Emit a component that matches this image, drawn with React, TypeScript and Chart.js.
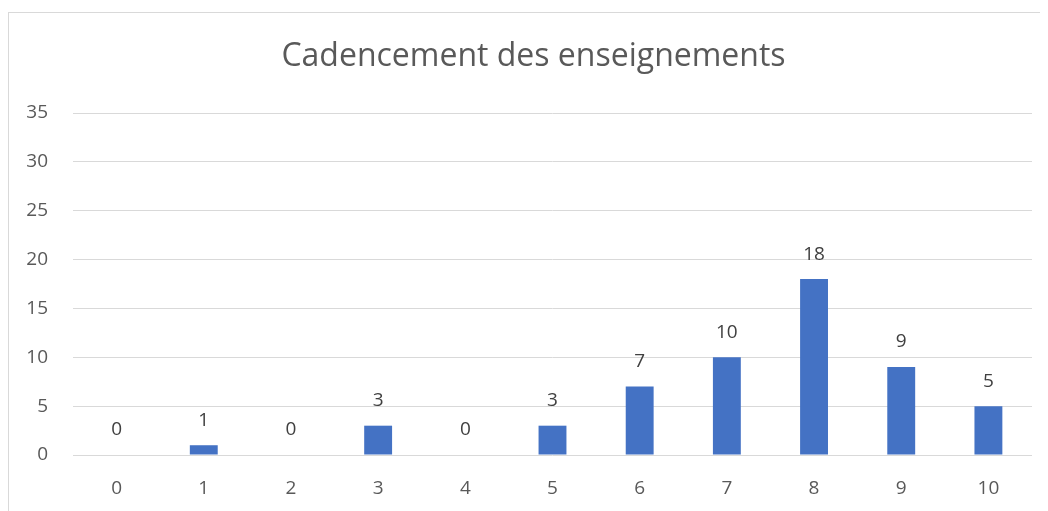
import React, { useEffect, useRef } from "react";
import { Chart, registerables } from "chart.js";

Chart.register(...registerables);

const categories = ["0", "1", "2", "3", "4", "5", "6", "7", "8", "9", "10"];
const values = [0, 1, 0, 3, 0, 3, 7, 10, 18, 9, 5];
const titleText = "Cadencement des enseignements";

const FONT = "'Open Sans', 'Noto Sans', sans-serif";

const valueLabels = {
  id: "valueLabels",
  afterDatasetsDraw(chart: any) {
    const ctx = chart.ctx;
    const meta = chart.getDatasetMeta(0);
    ctx.save();
    ctx.font = `19px ${FONT}`;
    ctx.fillStyle = "#404040";
    ctx.textAlign = "center";
    ctx.textBaseline = "middle";
    meta.data.forEach((bar: any, i: number) => {
      ctx.fillText(String(values[i]), bar.x, bar.y - 25);
    });
    ctx.restore();
  },
};

const titleDraw = {
  id: "titleDraw",
  afterDraw(chart: any) {
    const ctx = chart.ctx;
    ctx.save();
    ctx.font = `32px ${FONT}`;
    ctx.fillStyle = "#595959";
    ctx.textAlign = "center";
    ctx.textBaseline = "middle";
    ctx.fillText(titleText, (chart.width - 16 + 26) / 2, 44);
    ctx.restore();
  },
};

export default function App() {
  const ref = useRef<HTMLCanvasElement>(null);
  useEffect(() => {
    if (!ref.current) return;
    const chart = new Chart(ref.current, {
      type: "bar",
      data: {
        labels: categories,
        datasets: [
          {
            data: values,
            backgroundColor: "#4472C4",
            borderWidth: 0,
            categoryPercentage: 1,
            barPercentage: 0.32,
          },
        ],
      },
      options: {
        animation: false,
        responsive: false,
        maintainAspectRatio: false,
        layout: { padding: { top: 100, left: 0, right: 16, bottom: 0 } },
        plugins: {
          legend: { display: false },
          tooltip: { enabled: false },
          title: { display: false },
        },
        scales: {
          x: {
            grid: { display: false },
            border: { display: false },
            ticks: {
              color: "#595959",
              font: { family: FONT, size: 19 },
              padding: 14,
            },
            afterFit: (scale: any) => {
              scale.height = 56;
            },
          },
          y: {
            min: 0,
            max: 35,
            grid: { color: "#d9d9d9", lineWidth: 1, drawTicks: false },
            border: { display: false },
            ticks: {
              stepSize: 5,
              color: "#595959",
              font: { family: FONT, size: 19 },
              padding: 25,
            },
            afterFit: (scale: any) => {
              scale.width = 64;
            },
          },
        },
      },
      plugins: [valueLabels, titleDraw],
    });
    return () => chart.destroy();
  }, []);

  return (
    <div
      style={{
        marginTop: 4,
        width: 1040,
        height: 499,
        borderLeft: "1px solid #d9d9d9",
        borderTop: "1px solid #d9d9d9",
        boxSizing: "border-box",
        overflow: "hidden",
      }}
    >
      <canvas ref={ref} width={1039} height={498} style={{ display: "block" }} />
    </div>
  );
}
